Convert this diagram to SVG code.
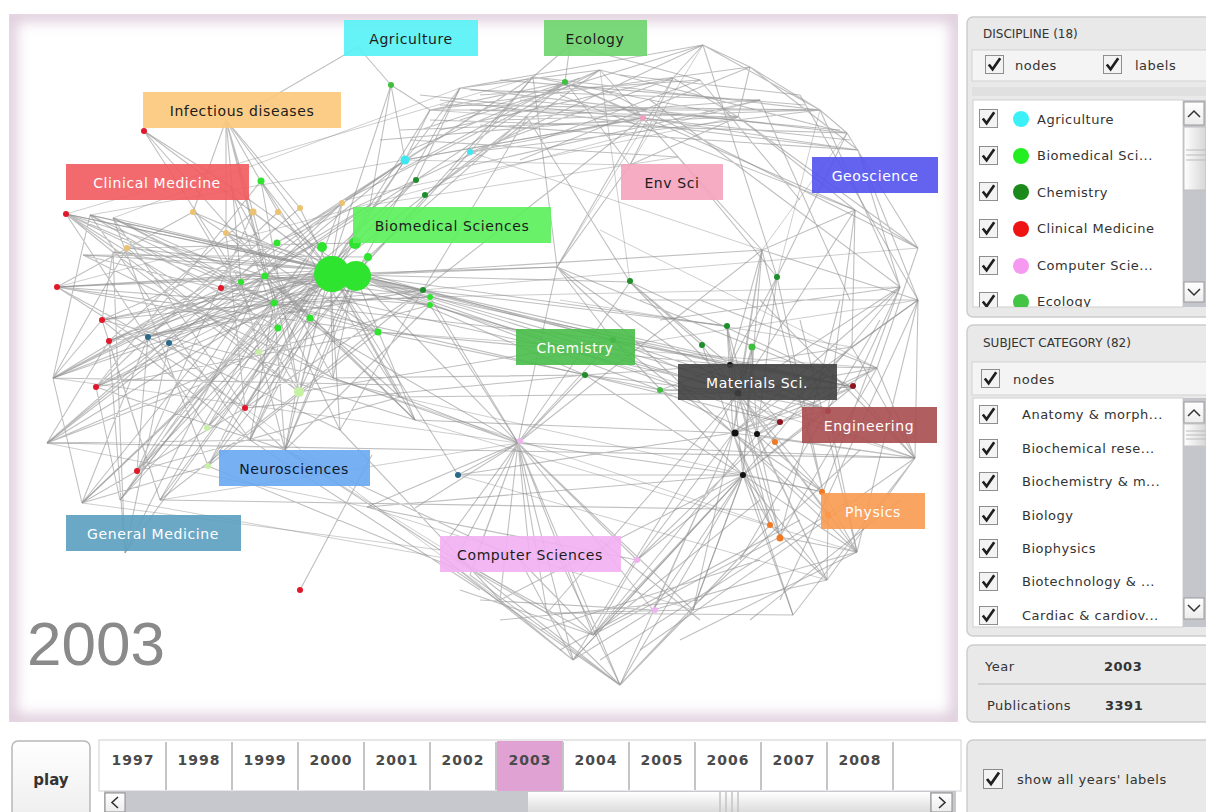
<svg xmlns="http://www.w3.org/2000/svg" xmlns:xlink="http://www.w3.org/1999/xlink" width="1206" height="812" viewBox="0 0 1206 812">
<style>
.e{fill:none;stroke:#8a8a8a;stroke-width:1.1;stroke-opacity:.55}
.e2{fill:none;stroke:#8a8a8a;stroke-width:1;stroke-opacity:.42}
.lb rect{fill-opacity:.9}
.lb text{font-family:"DejaVu Sans",Verdana,sans-serif;font-size:14px;letter-spacing:.6px;text-anchor:middle}
.dk{fill:#1c1c1c}
.wt{fill:#ffffff}
.ui{font-family:"DejaVu Sans",Verdana,sans-serif;font-size:13px;fill:#333;letter-spacing:.5px}
.hd{font-family:"DejaVu Sans",Verdana,sans-serif;font-size:12px;fill:#333}
.yr{font-family:"DejaVu Sans",Verdana,sans-serif;font-size:14px;font-weight:bold;fill:#4a4a4a;letter-spacing:1px;text-anchor:middle}
.box{fill:#e9e9e9;stroke:#cdcdcd;stroke-width:1.5}
.sep{stroke:#c4c4c4;stroke-width:2}
</style>
<defs>
<symbol id="cb" viewBox="0 0 20 20">
<rect x="0.5" y="0.5" width="19" height="19" fill="#f3f3f3" stroke="#8a8a8a"/>
<path d="M4 10 L8 15 L16 3.5" fill="none" stroke="#1e1e1e" stroke-width="2.8"/>
</symbol>
<linearGradient id="thumb" x1="0" y1="0" x2="0" y2="1">
<stop offset="0" stop-color="#ffffff"/><stop offset="1" stop-color="#dcdcdc"/>
</linearGradient>
<linearGradient id="thumbV" x1="0" y1="0" x2="1" y2="0">
<stop offset="0" stop-color="#ffffff"/><stop offset="1" stop-color="#d6d6d6"/>
</linearGradient>
<linearGradient id="btn" x1="0" y1="0" x2="0" y2="1">
<stop offset="0" stop-color="#ffffff"/><stop offset="1" stop-color="#ececec"/>
</linearGradient>
<clipPath id="cv"><rect x="9" y="14" width="949" height="708"/></clipPath>
<clipPath id="l1"><rect x="973" y="100" width="210" height="207"/></clipPath>
<clipPath id="l2"><rect x="973" y="398" width="210" height="229"/></clipPath>
<filter id="soft" x="-5%" y="-5%" width="110%" height="110%"><feGaussianBlur stdDeviation="7"/></filter>
</defs>

<rect width="1206" height="812" fill="#ffffff"/>

<!-- map canvas with soft tinted rim -->
<g id="canvas">
<rect x="9" y="14" width="949" height="708" fill="#ffffff"/>
<g clip-path="url(#cv)">
<rect x="9" y="14" width="949" height="708" fill="none" stroke="#dcc8d8" stroke-width="14" filter="url(#soft)"/>
</g>
</g>

<!-- connectors -->
<g id="edges">
<path class="e" d="M330 270L57 287M330 270L66 214M330 270L102 320M330 270L109 341M330 270L96 387M330 270L148 337M330 270L169 343M330 270L245 408M330 270L137 471M330 270L208 466M330 270L259 352M330 270L299 392M330 270L207 428M330 270L221 288M330 270L127 248M330 270L193 212M330 270L226 233M330 270L253 212M330 270L278 212M330 270L300 208M330 270L342 203M330 270L261 181M330 270L405 160M330 270L416 180M330 270L425 195M330 270L423 290M330 270L430 305M330 270L378 332M330 270L458 475M330 270L53 378M330 270L47 443M330 270L82 503M330 270L125 553M330 270L333 378M330 270L400 397M330 270L285 450M330 270L250 440M330 270L340 430M330 270L415 420M330 270L120 500M330 270L160 500M330 270L90 215M330 270L113 252M330 270L83 255M330 270L391 85M330 270L430 110M330 270L144 131"/>
<path class="e" d="M355 275L613 340M355 275L585 375M355 275L660 390M355 275L727 326M355 275L730 365M355 275L738 393M355 275L557 267M355 275L630 282M355 275L853 387M355 275L828 410M355 275L780 422M355 275L762 250M355 275L518 443M355 275L460 88M355 275L533 77M355 275L470 152M355 275L57 287M355 275L102 320M355 275L96 387M355 275L53 378M355 275L148 337M355 275L245 408M355 275L299 392M355 275L66 214M355 275L113 218M355 275L230 186M355 275L333 378M355 275L415 420M355 275L285 450M355 275L208 466"/>
<path class="e" d="M265 276L57 287M265 276L66 214M265 276L53 378M265 276L47 443M265 276L109 341M265 276L96 387M265 276L137 471M265 276L125 553M265 276L82 503M265 276L423 290M265 276L430 305M265 276L405 160M265 276L416 180M265 276L342 203M265 276L370 205M265 276L400 397M265 276L415 420M265 276L340 430M265 276L557 267M274 303L57 287M274 303L90 215M274 303L113 218M274 303L102 320M274 303L148 337M274 303L160 500M274 303L120 500M274 303L250 440M274 303L423 290M274 303L378 332M274 303L430 297M274 303L613 340M274 303L585 375M274 303L518 443"/>
<path class="e" d="M57 287L245 408M57 287L193 212M57 287L278 328M57 287L148 337M66 214L221 288M66 214L310 318M66 214L113 252M90 215L423 290M90 215L278 328M90 215L53 378M113 218L378 332M113 218L208 466M113 218L241 282M83 255L368 257M83 255L333 378M83 255L274 303M113 252L430 305M113 252L102 320M127 248L299 392M127 248L353 243M127 248L53 378M102 320L416 180M102 320L400 397M102 320L250 440M109 341L318 243M109 341L423 290M109 341L160 500M96 387L261 181M96 387L378 332M96 387L285 450M53 378L400 385M53 378L241 282M53 378L102 320M53 378L82 503M47 443L280 440M47 443L169 343M47 443L109 341M47 443L259 352M82 503L148 337M82 503L245 408M82 503L208 466M125 553L169 343M125 553L113 252M125 553L109 341M120 500L200 385M120 500L96 387M120 500L318 243M160 500L299 392M160 500L102 320M137 471L253 212M137 471L148 337M137 471L400 397M148 337L423 290M148 337L300 208M148 337L340 430M169 343L342 203M169 343L415 420M169 343L285 450M180 310L430 297M180 310L53 378M200 385L353 243M200 385L47 443M207 428L318 243M207 428L66 214M208 466L278 328M208 466L378 332M245 408L423 290M245 408L113 218M245 408L405 160M250 440L353 243M250 440L90 215M285 450L274 303M285 450L310 318M285 450L241 282M285 450L368 257M259 352L430 305M259 352L66 214M299 392L253 212M299 392L423 290M299 392L113 252M221 288L405 160M221 288L430 305M193 212L378 332M193 212L299 392M226 233L423 290M226 233L245 408M253 212L109 341M278 212L96 387M300 208L148 337M342 203L53 378M342 203L250 440M261 181L299 392M230 186L333 378M230 186L278 328M277 243L47 443M265 276L430 297M318 243L137 471M353 243L82 503M368 257L207 428M378 332L57 287M333 378L66 214M340 430L423 290M400 397L261 181M415 420L226 233M430 305L285 450M370 205L241 282M416 180L274 303M405 160L277 243M144 131L241 282M144 131L310 318M144 131L230 186"/>
<path class="e" d="M226 120L193 212M226 120L226 233M226 120L253 212M226 120L278 212M226 120L300 208M226 120L265 276M226 120L318 243M226 120L241 282M226 120L274 303M358 47L250 110M358 47L391 85M391 85L430 110M391 85L405 160M391 85L370 205M570 45L565 82M570 45L700 80M570 45L533 77"/>
<path class="e" d="M405 160L460 88M405 160L533 77M405 160L643 118M416 180L565 82M416 180L703 45M425 195L600 70M425 195L527 117M470 152L533 77M470 152L673 78M470 152L820 110M470 152L643 118M430 110L820 110M430 110L565 82M430 110L750 67M460 88L847 133M460 88L703 45M460 88L600 70M533 77L820 110M533 77L738 117M533 77L557 267M565 82L855 210M565 82L630 165M565 82L643 118M600 70L847 133M600 70L762 250M643 118L858 150M643 118L678 157M643 118L557 267M673 78L738 117M673 78L630 165M673 78L703 45M703 45L750 67M703 45L820 110M703 45L777 277M750 67L820 110M750 67L858 150M750 67L738 117M738 117L918 248M738 117L630 165M738 117L855 210M820 110L847 133M820 110L900 287M847 133L918 248M858 150L900 287M858 150L918 300M855 210L918 248M855 210L852 347M918 248L877 368M900 287L853 387M918 300L852 347M918 300L915 458M762 250L855 210M762 250L918 300M777 277L847 133M630 165L557 267M678 157L762 250M678 157L777 277M527 117L630 282M527 117L760 100M380 140L643 118M400 130L740 117M420 130L580 78M345 200L533 77M345 200L600 70M368 257L565 82M423 290L527 117M423 290L643 118M416 180L460 88M405 160L430 110M440 100L858 150M480 95L700 80M500 120L820 110M410 140L678 157M450 170L760 100"/>
<path class="e" d="M420 95L850 140M430 120L847 133M440 105L820 110M470 90L760 100M480 125L858 150M500 80L805 105M520 100L840 130M560 95L855 210M600 88L918 248M650 100L900 287M620 75L800 95M460 120L703 45M410 150L600 70M400 170L565 82M520 160L750 67M540 140L700 80M700 80L800 200M760 100L850 300M800 95L918 300M440 130L673 78M470 110L738 117"/>
<path class="e" d="M430 297L853 387M430 305L738 393M423 290L727 326M423 290L613 340M378 332L730 365M378 332L660 390M340 300L740 390M400 397L738 393M415 420L733 433M333 378L585 375M299 392L613 340M245 408L585 375M430 305L518 443M557 267L738 393M557 267L733 433M557 267L613 340M557 267L853 387M630 282L730 365M630 282L853 387M630 282L702 345M613 340L853 387M613 340L828 410M585 375L780 422M585 375L743 475M660 390L853 387M660 390L757 435M458 475L733 433M458 475L518 443M458 475L743 475M367 507L743 475M367 507L637 560M285 450L440 550M285 450L520 560M250 440L480 590M340 430L500 600M208 466L460 570M300 590L372 455M47 443L915 458M160 500L780 510"/>
<path class="e" d="M738 393L727 326M738 393L702 345M738 393L752 347M738 393L613 340M738 393L585 375M738 393L660 390M738 393L853 387M738 393L828 410M738 393L780 422M738 393L775 442M738 393L823 492M738 393L828 515M738 393L770 525M738 393L780 537M738 393L877 368M738 393L915 458M738 393L857 552M738 393L827 580M738 393L762 250M738 393L777 277M738 393L900 287M738 393L855 210M738 393L630 282M733 433L727 326M733 433L702 345M733 433L752 347M733 433L613 340M733 433L853 387M733 433L828 410M733 433L823 492M733 433L828 515M733 433L770 525M733 433L780 537M733 433L877 368M733 433L915 458M733 433L857 552M733 433L793 615M733 433L693 610M733 433L637 560M733 433L762 250M733 433L900 287M733 433L918 300M757 435L727 326M757 435L752 347M757 435L853 387M757 435L877 368M757 435L823 492M757 435L780 537M757 435L915 458M757 435L827 580M757 435L777 277M757 435L852 347"/>
<path class="e" d="M743 475L613 340M743 475L727 326M743 475L752 347M743 475L853 387M743 475L828 410M743 475L823 492M743 475L770 525M743 475L857 552M743 475L827 580M743 475L793 615M743 475L693 610M743 475L653 610M743 475L637 560M743 475L593 635M743 475L573 660M743 475L620 685M743 475L762 250M743 475L900 287M730 365L613 340M730 365L660 390M730 365L585 375M730 365L853 387M730 365L877 368M730 365L828 410M730 365L780 422M730 365L762 250M730 365L777 277M730 365L852 347M852 347L915 458M877 368L915 458M853 387L915 458M828 410L857 552M823 492L857 552M828 515L827 580M780 537L857 552M770 525L827 580M915 458L827 580M915 458L793 615M877 368L780 537M762 250L823 492M777 277L828 515M900 287L823 492M918 300L857 552M855 210L828 410"/>
<path class="e" d="M640 300L918 300M660 320L900 287M700 300L877 368M760 300L915 458M800 320L857 552M840 300L780 537M880 320L740 560M860 450L700 600M900 500L750 620M780 600L918 300"/>
<path class="e" d="M518 443L440 550M518 443L455 560M518 443L470 575M518 443L500 600M518 443L547 613M518 443L573 660M518 443L593 635M518 443L620 685M518 443L637 560M518 443L653 610M518 443L693 610M518 443L415 508M518 443L367 507M518 443L333 378M518 443L400 397M518 443L557 267M518 443L630 282M518 443L585 375M518 443L762 250M518 443L743 475M518 443L915 458M518 443L613 340M518 443L430 297M518 443L475 560M518 443L530 560M440 555L573 660M460 560L620 685M520 560L593 635M547 613L693 610M573 660L743 475M620 685L770 525M593 635L780 537M653 610L857 552M693 610L827 580M547 613L793 615M573 660L653 610M593 635L637 560M620 685L693 610M500 600L573 660M470 575L620 685M547 613L620 685M440 550L593 635M455 560L547 613M573 660L738 393M620 685L733 433M593 635L757 435M653 610L733 433M637 560L780 422M693 610L743 475M500 600L743 475M547 613L738 393"/>
<path class="e" d="M440 560L620 685M460 590L593 635M480 600L653 610M500 620L700 600M540 630L760 560M560 650L800 520M600 660L850 500M620 685L560 560M573 660L520 560M593 635L760 500M640 650L915 458M680 640L857 552M700 620L600 540"/>
<path class="e2" d="M57 287L760 100M66 214L533 77M90 215L643 118M113 218L460 88M53 378L518 443M47 443L367 507M82 503L440 550M120 500L455 560M160 500L518 443M423 290L918 248M430 297L900 287M378 332L877 368M430 305L915 458M415 420L857 552M400 397L823 492M333 378L770 525M458 475L827 580M367 507L693 610M285 450L547 613M245 408L500 600M530 360L918 300M560 300L852 347M600 230L877 368M470 152L762 250M405 160L630 165M370 205L678 157M345 200L738 117M430 110L527 117M600 70L630 282M673 78L557 267M703 45L630 165M820 110L777 277M847 133L762 250"/>
</g>

<!-- category dots -->
<g id="dots">
<g fill="#e0182a">
<circle cx="57" cy="287" r="3"/><circle cx="66" cy="214" r="3"/><circle cx="102" cy="320" r="3"/><circle cx="109" cy="341" r="3"/><circle cx="96" cy="387" r="3"/><circle cx="245" cy="408" r="3"/><circle cx="137" cy="471" r="3"/><circle cx="221" cy="288" r="3"/><circle cx="300" cy="590" r="3"/><circle cx="144" cy="131" r="3"/>
</g>
<g fill="#2a6a88"><circle cx="148" cy="337" r="3"/><circle cx="169" cy="343" r="3"/><circle cx="458" cy="475" r="3"/></g>
<g fill="#c6f0a2"><circle cx="208" cy="466" r="3"/><circle cx="259" cy="352" r="3"/><circle cx="299" cy="392" r="5"/><circle cx="207" cy="428" r="3"/></g>
<g fill="#eac271"><circle cx="127" cy="248" r="3"/><circle cx="193" cy="212" r="3"/><circle cx="226" cy="233" r="3"/><circle cx="253" cy="212" r="3.5"/><circle cx="278" cy="212" r="3"/><circle cx="300" cy="208" r="3"/><circle cx="342" cy="203" r="3"/></g>
<g fill="#2ee42e">
<circle cx="332" cy="274" r="18"/><circle cx="356" cy="276" r="15"/><circle cx="322" cy="247" r="5"/><circle cx="355" cy="243" r="6"/><circle cx="368" cy="257" r="4"/>
<circle cx="261" cy="181" r="3.5"/><circle cx="277" cy="243" r="3.5"/><circle cx="265" cy="276" r="3.5"/><circle cx="241" cy="282" r="3"/><circle cx="274" cy="303" r="3.5"/><circle cx="278" cy="328" r="3.5"/><circle cx="310" cy="318" r="3.5"/><circle cx="378" cy="332" r="3.5"/><circle cx="430" cy="297" r="3"/><circle cx="430" cy="305" r="3"/>
</g>
<g fill="#1e8e2a"><circle cx="423" cy="290" r="3"/><circle cx="416" cy="180" r="3"/><circle cx="425" cy="195" r="3"/><circle cx="630" cy="281" r="3"/><circle cx="777" cy="277" r="3"/><circle cx="727" cy="326" r="3"/><circle cx="702" cy="345" r="3"/><circle cx="613" cy="340" r="3"/><circle cx="585" cy="375" r="3"/></g>
<g fill="#3fbf3f"><circle cx="391" cy="85" r="3"/><circle cx="565" cy="82" r="3"/><circle cx="752" cy="347" r="3.5"/><circle cx="660" cy="390" r="3"/></g>
<g fill="#40e6f2"><circle cx="405" cy="160" r="4.5"/><circle cx="470" cy="152" r="3"/></g>
<g fill="#f2a0c0"><circle cx="643" cy="118" r="3"/></g>
<g fill="#f0b2f0"><circle cx="520" cy="441" r="3"/><circle cx="637" cy="560" r="3"/><circle cx="655" cy="610" r="3"/></g>
<g fill="#111111"><circle cx="730" cy="365" r="3"/><circle cx="738" cy="393" r="3.5"/><circle cx="735" cy="433" r="3.5"/><circle cx="757" cy="434" r="3"/><circle cx="743" cy="475" r="3"/></g>
<g fill="#8e1422"><circle cx="780" cy="422" r="3"/><circle cx="853" cy="386" r="3"/><circle cx="828" cy="411" r="3"/></g>
<g fill="#f07820"><circle cx="775" cy="442" r="3"/><circle cx="822" cy="492" r="3"/><circle cx="828" cy="515" r="3"/><circle cx="770" cy="525" r="3"/><circle cx="780" cy="538" r="3.5"/></g>
</g>

<!-- discipline labels -->
<g id="n-agriculture" class="lb"><rect x="344" y="20" width="134" height="36" fill="#55f2f6"/><text x="411" y="44" class="dk">Agriculture</text></g>
<g id="n-ecology" class="lb"><rect x="544" y="20" width="103" height="36" fill="#6cd46c"/><text x="595" y="44" class="dk">Ecology</text></g>
<g id="n-infectious" class="lb"><rect x="143" y="92" width="198" height="36" fill="#fbc879"/><text x="242" y="116" class="dk">Infectious diseases</text></g>
<g id="n-clinical" class="lb"><rect x="66" y="164" width="183" height="36" fill="#f25a5e"/><text x="157" y="188" class="wt">Clinical Medicine</text></g>
<g id="n-biomedical" class="lb"><rect x="353" y="207" width="198" height="36" fill="#5af05a"/><text x="452" y="231" class="dk">Biomedical Sciences</text></g>
<g id="n-envsci" class="lb"><rect x="621" y="164" width="102" height="36" fill="#f5a3bd"/><text x="672" y="188" class="dk">Env Sci</text></g>
<g id="n-geoscience" class="lb"><rect x="812" y="157" width="126" height="36" fill="#5252ee"/><text x="875" y="181" class="wt">Geoscience</text></g>
<g id="n-chemistry" class="lb"><rect x="516" y="329" width="119" height="36" fill="#49bd49"/><text x="575" y="353" class="wt">Chemistry</text></g>
<g id="n-materials" class="lb"><rect x="678" y="364" width="159" height="36" fill="#404040"/><text x="757" y="388" class="wt">Materials Sci.</text></g>
<g id="n-engineering" class="lb"><rect x="802" y="407" width="135" height="36" fill="#a84c50"/><text x="869" y="431" class="wt">Engineering</text></g>
<g id="n-physics" class="lb"><rect x="821" y="493" width="104" height="36" fill="#f99a50"/><text x="873" y="517" class="wt">Physics</text></g>
<g id="n-neuro" class="lb"><rect x="219" y="450" width="151" height="36" fill="#68a8f2"/><text x="294" y="474" fill="#101830">Neurosciences</text></g>
<g id="n-genmed" class="lb"><rect x="66" y="515" width="175" height="36" fill="#5a9ec0"/><text x="153" y="539" class="wt">General Medicine</text></g>
<g id="n-compsci" class="lb"><rect x="440" y="536" width="181" height="36" fill="#f2b0f2"/><text x="530" y="560" class="dk">Computer Sciences</text></g>

<text x="27" y="665" font-family="Liberation Sans, Arial, sans-serif" font-size="62" fill="#8a8a8a">2003</text>

<!-- right panel: discipline -->
<g id="discipline">
<rect class="box" x="967" y="17" width="250" height="300" rx="6"/>
<text class="hd" x="983" y="38">DISCIPLINE (18)</text>
<rect x="972" y="50" width="240" height="31" fill="#f4f4f4" stroke="#d2d2d2"/>
<use href="#cb" x="985" y="55" width="19" height="19"/><text class="ui" x="1015" y="70">nodes</text>
<use href="#cb" x="1103" y="55" width="19" height="19"/><text class="ui" x="1135" y="70">labels</text>
<rect x="972" y="87" width="240" height="9" fill="#e0e0e0"/>
<rect x="973" y="100" width="210" height="207" fill="#ffffff" stroke="#cfcfcf"/>
<g clip-path="url(#l1)">
<use href="#cb" x="979" y="109" width="19" height="19"/><circle cx="1021" cy="119" r="8" fill="#3cf0f8"/><text class="ui" x="1037" y="124">Agriculture</text>
<use href="#cb" x="979" y="146" width="19" height="19"/><circle cx="1021" cy="156" r="8" fill="#22ee22"/><text class="ui" x="1037" y="160">Biomedical Sci...</text>
<use href="#cb" x="979" y="182" width="19" height="19"/><circle cx="1021" cy="192" r="8" fill="#1b8a1b"/><text class="ui" x="1037" y="197">Chemistry</text>
<use href="#cb" x="979" y="219" width="19" height="19"/><circle cx="1021" cy="229" r="8" fill="#ee1414"/><text class="ui" x="1037" y="233">Clinical Medicine</text>
<use href="#cb" x="979" y="256" width="19" height="19"/><circle cx="1021" cy="266" r="8" fill="#f59af0"/><text class="ui" x="1037" y="270">Computer Scie...</text>
<use href="#cb" x="979" y="292" width="19" height="19"/><circle cx="1021" cy="302" r="8" fill="#44c444"/><text class="ui" x="1037" y="306">Ecology</text>
</g>
<rect x="1183" y="100" width="23" height="207" fill="#c4c6cc"/>
<rect x="1184" y="102" width="20" height="23" fill="url(#btn)" stroke="#9a9a9a"/><path d="M1188 117 L1194 111 L1200 117" fill="none" stroke="#333" stroke-width="1.5"/>
<rect x="1184" y="127" width="22" height="63" fill="url(#thumbV)" stroke="#c0c0c0"/>
<path d="M1186 150H1206M1186 155H1206M1186 160H1206" stroke="#bbb"/>
<rect x="1184" y="282" width="20" height="20" fill="url(#btn)" stroke="#9a9a9a"/><path d="M1188 289 L1194 295 L1200 289" fill="none" stroke="#333" stroke-width="1.5"/>
</g>

<!-- right panel: subject category -->
<g id="subject">
<rect class="box" x="967" y="325" width="250" height="311" rx="6"/>
<text class="hd" x="983" y="347">SUBJECT CATEGORY (82)</text>
<rect x="972" y="362" width="240" height="33" fill="#f4f4f4" stroke="#d2d2d2"/>
<use href="#cb" x="981" y="369" width="19" height="19"/><text class="ui" x="1013" y="384">nodes</text>
<rect x="973" y="398" width="210" height="229" fill="#ffffff" stroke="#cfcfcf"/>
<g clip-path="url(#l2)">
<use href="#cb" x="979" y="405" width="19" height="19"/><text class="ui" x="1022" y="419">Anatomy &amp; morph...</text>
<use href="#cb" x="979" y="439" width="19" height="19"/><text class="ui" x="1022" y="453">Biochemical rese...</text>
<use href="#cb" x="979" y="472" width="19" height="19"/><text class="ui" x="1022" y="486">Biochemistry &amp; m...</text>
<use href="#cb" x="979" y="506" width="19" height="19"/><text class="ui" x="1022" y="520">Biology</text>
<use href="#cb" x="979" y="539" width="19" height="19"/><text class="ui" x="1022" y="553">Biophysics</text>
<use href="#cb" x="979" y="572" width="19" height="19"/><text class="ui" x="1022" y="586">Biotechnology &amp; ...</text>
<use href="#cb" x="979" y="606" width="19" height="19"/><text class="ui" x="1022" y="620">Cardiac &amp; cardiov...</text>
</g>
<rect x="1183" y="398" width="23" height="229" fill="#c4c6cc"/>
<rect x="1184" y="402" width="20" height="21" fill="url(#btn)" stroke="#9a9a9a"/><path d="M1188 416 L1194 410 L1200 416" fill="none" stroke="#333" stroke-width="1.5"/>
<rect x="1184" y="424" width="22" height="22" fill="url(#thumbV)" stroke="#c8c8c8"/>
<path d="M1186 431H1206M1186 435H1206M1186 439H1206" stroke="#bbb"/>
<rect x="1184" y="598" width="20" height="21" fill="url(#btn)" stroke="#9a9a9a"/><path d="M1188 605 L1194 611 L1200 605" fill="none" stroke="#333" stroke-width="1.5"/>
</g>

<!-- right panel: stats -->
<g id="stats">
<rect class="box" x="967" y="645" width="250" height="77" rx="6"/>
<text class="ui" x="985" y="671" font-size="14">Year</text>
<text class="ui" x="1104" y="671" font-weight="bold" fill="#222">2003</text>
<line x1="978" y1="684" x2="1206" y2="684" stroke="#bcbcbc"/>
<text class="ui" x="987" y="710" font-size="14">Publications</text>
<text class="ui" x="1105" y="710" font-weight="bold" fill="#222">3391</text>
</g>

<g id="options">
<rect class="box" x="967" y="740" width="250" height="90" rx="6"/>
<use href="#cb" x="983" y="769" width="20" height="20"/>
<text class="ui" x="1017" y="784">show all years' labels</text>
</g>

<!-- timeline -->
<g id="play">
<rect x="12" y="741" width="78" height="85" rx="6" fill="url(#btn)" stroke="#b8b8b8" stroke-width="1.5"/>
<text x="51" y="785" font-family="DejaVu Sans, Verdana, sans-serif" font-size="15" font-weight="bold" fill="#333" text-anchor="middle">play</text>
</g>
<g id="years">
<rect x="99" y="740" width="862" height="51" fill="#ffffff" stroke="#d0d0d0"/>
<rect x="497" y="741" width="66" height="50" fill="#e0a2d2"/>
<path class="sep" d="M166 742V790M232 742V790M298 742V790M364 742V790M430 742V790M496 742V790M563 742V790M629 742V790M695 742V790M761 742V790M827 742V790M893 742V790"/>
<text class="yr" x="133" y="765">1997</text>
<text class="yr" x="199" y="765">1998</text>
<text class="yr" x="265" y="765">1999</text>
<text class="yr" x="331" y="765">2000</text>
<text class="yr" x="397" y="765">2001</text>
<text class="yr" x="463" y="765">2002</text>
<text class="yr" x="530" y="765">2003</text>
<text class="yr" x="596" y="765">2004</text>
<text class="yr" x="662" y="765">2005</text>
<text class="yr" x="728" y="765">2006</text>
<text class="yr" x="794" y="765">2007</text>
<text class="yr" x="860" y="765">2008</text>
<rect x="104" y="791" width="852" height="21" fill="#c6c8ce"/>
<rect x="105" y="793" width="20" height="19" fill="url(#btn)" stroke="#8a8a8a"/><path d="M118 797 L112 802.5 L118 808" fill="none" stroke="#333" stroke-width="1.6"/>
<rect x="528" y="792" width="402" height="20" fill="url(#thumb)"/>
<path d="M720 792V812M726 792V812M732 792V812M738 792V812" stroke="#c4c4c4" stroke-width="1.5"/>
<rect x="931" y="793" width="21" height="19" fill="url(#btn)" stroke="#8a8a8a"/><path d="M939 797 L945 802.5 L939 808" fill="none" stroke="#333" stroke-width="1.6"/>
</g>
</svg>
